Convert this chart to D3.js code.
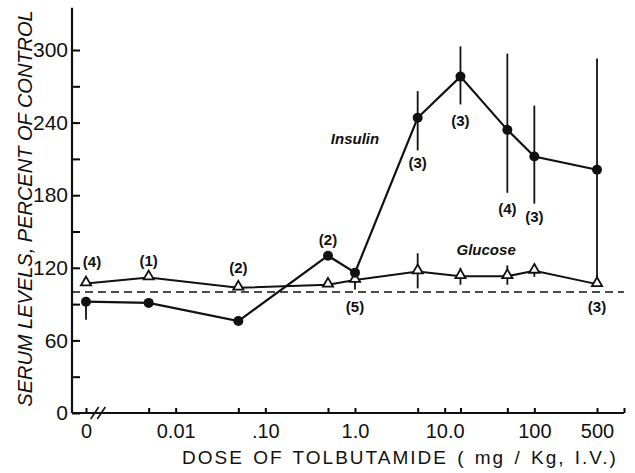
<!DOCTYPE html>
<html lang="en">
  <head>
    <meta charset="UTF-8" />
    <title>Serum levels vs tolbutamide dose</title>
    <script src="https://d3js.org/d3.v7.min.js"></script>
    <style>
      body { margin: 0; background: #fff; }
      text { font-family: "Liberation Sans", Arial, sans-serif; fill: #111; }
    </style>
  </head>
  <body>
    <div id="chart-container"></div>
    <script>
      // Doses in mg/Kg; the 0 dose is drawn at the left end of the log axis
      const doses = [0, 0.005, 0.05, 0.5, 1, 5, 15, 50, 100, 500];
      const insulin = [92, 91, 76, 130, 116, 244, 278, 234, 212, 201];
      const insulinLow = [77, null, null, null, null, 217, 255, 182, 173, 110];
      const insulinHigh = [null, null, null, null, null, 266, 303, 297, 254, 293];
      const glucose = [107, 112, 103.5, 106, 110, 117, 113, 113, 117.5, 106.5];
      const glucoseLow = [null, null, null, null, 102, 103, 106, 106, 112.5, null];
      const glucoseHigh = [null, null, null, null, null, 132, 120, 122, 123, null];

      // number of animals, and the level where each count is written
      const glucoseN = ["(4)", "(1)", "(2)", "", "(5)", "", "", "", "", "(3)"];
      const glucoseNLevel = [125, 126, 120, null, 88, null, null, null, null, 88];
      const insulinN = ["", "", "", "(2)", "", "(3)", "(3)", "(4)", "(3)", ""];
      const insulinNLevel = [null, null, null, 143, null, 207, 242, 169, 162, null];

      // axis ticks
      const xTicks = [0.001, 0.005, 0.01, 0.05, 0.1, 0.5, 1, 5, 10, 15, 50, 100, 500, 1000];
      const xTickLabels = { 0.001: "0", 0.01: "0.01", 0.1: ".10", 1: "1.0", 10: "10.0", 100: "100", 500: "500" };
      const yMajor = [0, 60, 120, 180, 240, 300];
      const yMinor = [30, 90, 150, 210, 270];
      const controlLevel = 100;
      const zeroDose = 0.001;

      const width = 635;
      const height = 473;

      const svg = d3
        .select("#chart-container")
        .append("svg")
        .attr("width", width)
        .attr("height", height)
        .style("background", "#fff");

      const xScale = d3.scaleLog().domain([0.001, 1000]).range([86, 624]);
      const yScale = d3.scaleLinear().domain([0, 300]).range([413, 50]);
      const axisLeftX = 72;
      const xPos = (d) => xScale(d === 0 ? zeroDose : d);

      // y axis: labels outside, ticks pointing in
      const yAxis = svg
        .append("g")
        .attr("transform", "translate(" + axisLeftX + ",0)")
        .call(d3.axisLeft(yScale).tickValues(yMajor).tickSizeInner(-8).tickSizeOuter(0).tickPadding(4));
      yAxis.select(".domain").remove();
      yAxis.selectAll(".tick line").attr("stroke-width", 2);
      yAxis.selectAll("text").style("font-size", "21px").attr("fill", "#111");

      svg
        .append("g")
        .attr("transform", "translate(" + axisLeftX + ",0)")
        .call(d3.axisLeft(yScale).tickValues(yMinor).tickSizeInner(-8).tickSizeOuter(0).tickFormat(""))
        .call((g) => g.select(".domain").remove())
        .selectAll(".tick line")
        .attr("stroke-width", 2);

      svg
        .append("line")
        .attr("x1", axisLeftX)
        .attr("x2", axisLeftX)
        .attr("y1", yScale(0))
        .attr("y2", yScale(335))
        .attr("stroke", "#111")
        .attr("stroke-width", 2.2);

      // x axis
      const xAxis = svg
        .append("g")
        .attr("transform", "translate(0," + yScale(0) + ")")
        .call(
          d3
            .axisBottom(xScale)
            .tickValues(xTicks)
            .tickSizeInner(-5)
            .tickSizeOuter(0)
            .tickPadding(11)
            .tickFormat((d) => xTickLabels[d] || "")
        );
      xAxis.select(".domain").remove();
      xAxis.selectAll(".tick line").attr("stroke-width", 2);
      xAxis.selectAll("text").style("font-size", "20px").attr("fill", "#111");

      svg
        .append("line")
        .attr("x1", axisLeftX)
        .attr("x2", xScale(1000))
        .attr("y1", yScale(0))
        .attr("y2", yScale(0))
        .attr("stroke", "#111")
        .attr("stroke-width", 2.2);

      // axis break marks
      [0.00125, 0.00148].forEach((d) => {
        svg
          .append("line")
          .attr("x1", xScale(d) - 4)
          .attr("x2", xScale(d) + 4)
          .attr("y1", yScale(0) + 6)
          .attr("y2", yScale(0) - 6)
          .attr("stroke", "#111")
          .attr("stroke-width", 1.6);
      });

      // control (100%) reference line
      svg
        .append("line")
        .attr("x1", axisLeftX)
        .attr("x2", xScale(1000))
        .attr("y1", yScale(controlLevel))
        .attr("y2", yScale(controlLevel))
        .attr("stroke", "#111")
        .attr("stroke-width", 1.6)
        .attr("stroke-dasharray", "8,5");

      const line = d3
        .line()
        .x((d) => xPos(d[0]))
        .y((d) => yScale(d[1]));

      function drawErrorBars(values, low, high) {
        svg
          .append("g")
          .selectAll("line")
          .data(doses)
          .enter()
          .filter((d, i) => low[i] !== null || high[i] !== null)
          .append("line")
          .attr("x1", (d) => xPos(d))
          .attr("x2", (d) => xPos(d))
          .attr("y1", (d) => yScale(low[doses.indexOf(d)] ?? values[doses.indexOf(d)]))
          .attr("y2", (d) => yScale(high[doses.indexOf(d)] ?? values[doses.indexOf(d)]))
          .attr("stroke", "#111")
          .attr("stroke-width", 1.8);
      }

      drawErrorBars(glucose, glucoseLow, glucoseHigh);
      drawErrorBars(insulin, insulinLow, insulinHigh);

      // glucose: open triangles
      svg
        .append("path")
        .attr("d", line(doses.map((d, i) => [d, glucose[i]])))
        .attr("fill", "none")
        .attr("stroke", "#111")
        .attr("stroke-width", 2);

      const triangle = d3.symbol().type(d3.symbolTriangle).size(45);
      svg
        .append("g")
        .selectAll("path")
        .data(doses)
        .enter()
        .append("path")
        .attr("d", triangle)
        .attr("transform", (d, i) => "translate(" + xPos(d) + "," + (yScale(glucose[i]) - 1) + ")")
        .attr("fill", "#fff")
        .attr("stroke", "#111")
        .attr("stroke-width", 1.8);

      // insulin: filled circles
      svg
        .append("path")
        .attr("d", line(doses.map((d, i) => [d, insulin[i]])))
        .attr("fill", "none")
        .attr("stroke", "#111")
        .attr("stroke-width", 2.2);

      svg
        .append("g")
        .selectAll("circle")
        .data(doses)
        .enter()
        .append("circle")
        .attr("cx", (d) => xPos(d))
        .attr("cy", (d, i) => yScale(insulin[i]))
        .attr("r", 5)
        .attr("fill", "#111");

      // counts in brackets
      function drawCounts(texts, levels, dx0) {
        svg
          .append("g")
          .selectAll("text")
          .data(doses)
          .enter()
          .filter((d, i) => texts[i] !== "")
          .append("text")
          .attr("x", (d) => xPos(d) + (d === 0 ? dx0 : 0))
          .attr("y", (d) => yScale(levels[doses.indexOf(d)]))
          .attr("dy", "0.36em")
          .attr("text-anchor", "middle")
          .style("font-size", "15px")
          .style("font-weight", "bold")
          .text((d) => texts[doses.indexOf(d)]);
      }
      drawCounts(glucoseN, glucoseNLevel, 6);
      drawCounts(insulinN, insulinNLevel, 0);

      // series names
      svg
        .append("text")
        .attr("x", xScale(1))
        .attr("y", yScale(227))
        .attr("dy", "0.36em")
        .attr("text-anchor", "middle")
        .style("font-size", "15px")
        .style("font-style", "italic")
        .style("font-weight", "bold")
        .text("Insulin");

      svg
        .append("text")
        .attr("x", xScale(29))
        .attr("y", yScale(135))
        .attr("dy", "0.36em")
        .attr("text-anchor", "middle")
        .style("font-size", "15px")
        .style("font-style", "italic")
        .style("font-weight", "bold")
        .text("Glucose");

      // axis titles
      svg
        .append("text")
        .attr("transform", "translate(32," + yScale(169) + ") rotate(-90)")
        .attr("text-anchor", "middle")
        .style("font-size", "20px")
        .style("font-style", "italic")
        .text("SERUM LEVELS, PERCENT OF CONTROL");

      svg
        .append("text")
        .attr("x", 400)
        .attr("y", 464)
        .attr("text-anchor", "middle")
        .style("font-size", "19px")
        .style("letter-spacing", "2px")
        .style("word-spacing", "2px")
        .text("DOSE OF TOLBUTAMIDE ( mg / Kg, I.V.)");
    </script>
  </body>
</html>
